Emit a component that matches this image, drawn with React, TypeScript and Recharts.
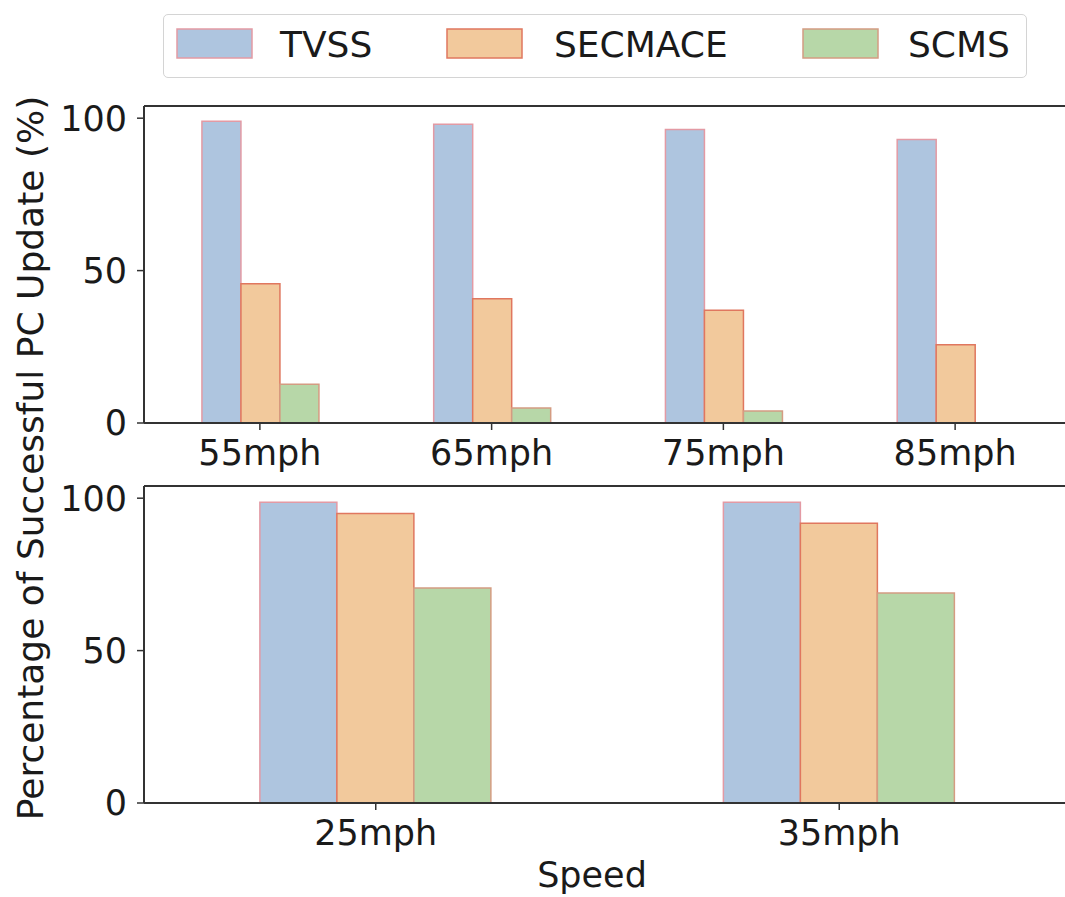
import React from 'react';
import { BarChart, Bar, XAxis, YAxis, ReferenceLine, Legend } from 'recharts';

const seriesNames = ['TVSS', 'SECMACE', 'SCMS'];

const highSpeedCategories = ['55mph', '65mph', '75mph', '85mph'];
const tvssHigh = [99.0, 98.0, 96.3, 93.0];
const secmaceHigh = [45.7, 40.8, 37.0, 25.7];
const scmsHigh = [12.7, 4.9, 3.9, 0];

const lowSpeedCategories = ['25mph', '35mph'];
const tvssLow = [98.7, 98.7];
const secmaceLow = [95.0, 91.8];
const scmsLow = [70.5, 68.9];

const yTicks = [0, 50, 100];
const yDomainMax = 104;
const yLabelText = 'Percentage of Successful PC Update (%)';
const xLabelText = 'Speed';

const FILLS = ['#aec5df', '#f2c99c', '#b7d7a8'];
const STROKES = ['#e39aa4', '#e0775f', '#d49c82'];
const AX = '#333333';
const TXT = '#1a1a1a';
const FONT = '"DejaVu Sans", sans-serif';

const highData = highSpeedCategories.map((cat, i) => ({
  cat,
  TVSS: tvssHigh[i],
  SECMACE: secmaceHigh[i],
  SCMS: scmsHigh[i],
}));

const lowData = lowSpeedCategories.map((cat, i) => ({
  cat,
  TVSS: tvssLow[i],
  SECMACE: secmaceLow[i],
  SCMS: scmsLow[i],
}));

const renderYLabel = () => (
  <text
    x={43}
    y={458}
    transform="rotate(-90 43 458)"
    textAnchor="middle"
    fontSize={36}
    fontFamily={FONT}
    fill={TXT}
  >
    {yLabelText}
  </text>
);

const renderXLabel = () => (
  <text x={592} y={417} textAnchor="middle" fontSize={35} fontFamily={FONT} fill={TXT}>
    {xLabelText}
  </text>
);

const legendPatchX = [13, 283, 639];
const legendTextX = [116, 390, 744];

const renderLegend = () => (
  <div
    style={{
      width: 864,
      height: 64,
      boxSizing: 'border-box',
      border: '1.5px solid #d4d4d4',
      borderRadius: 5,
      background: '#fff',
    }}
  >
    <svg width={861} height={61} style={{ display: 'block' }}>
      {seriesNames.map((name, i) => (
        <g key={name}>
          <rect
            x={legendPatchX[i]}
            y={14}
            width={75}
            height={29}
            fill={FILLS[i]}
            stroke={STROKES[i]}
            strokeWidth={1.5}
          />
          <text x={legendTextX[i]} y={42} fontSize={36} fontFamily={FONT} fill={TXT}>
            {name}
          </text>
        </g>
      ))}
    </svg>
  </div>
);

const axisProps = {
  tickSize: 7,
  tickMargin: 10,
  axisLine: { stroke: AX, strokeWidth: 2 },
  tickLine: { stroke: AX, strokeWidth: 1.5 },
  tick: { fill: TXT, fontSize: 35, fontFamily: FONT },
};

const renderBars = () =>
  seriesNames.map((name, i) => (
    <Bar
      key={name}
      dataKey={name}
      fill={FILLS[i]}
      stroke={STROKES[i]}
      strokeWidth={1.5}
      isAnimationActive={false}
    />
  ));

export default function App() {
  return (
    <div
      style={{
        position: 'absolute',
        left: 0,
        top: 0,
        width: 1065,
        height: 897,
        overflow: 'hidden',
        background: '#fff',
      }}
    >
      <div style={{ position: 'absolute', left: 0, top: 0 }}>
        <BarChart
          width={1075}
          height={897}
          data={highData}
          margin={{ top: 106, right: 4, left: 0, bottom: 417 }}
          barCategoryGap="25%"
          barGap={0}
        >
          <XAxis dataKey="cat" height={57} interval={0} {...axisProps} />
          <YAxis
            width={144}
            domain={[0, yDomainMax]}
            ticks={yTicks}
            allowDataOverflow
            label={renderYLabel}
            {...axisProps}
          />
          <ReferenceLine y={yDomainMax} stroke={AX} strokeWidth={2} />
          {renderBars()}
          <Legend
            layout="horizontal"
            verticalAlign="middle"
            align="center"
            content={renderLegend}
            wrapperStyle={{ left: 163, top: 14, width: 864, height: 64 }}
          />
        </BarChart>
      </div>
      <div style={{ position: 'absolute', left: 0, top: 470 }}>
        <BarChart
          width={1075}
          height={427}
          data={lowData}
          margin={{ top: 16, right: 4, left: 0, bottom: 37 }}
          barCategoryGap="25%"
          barGap={0}
        >
          <XAxis dataKey="cat" height={57} interval={0} label={renderXLabel} {...axisProps} />
          <YAxis
            width={144}
            domain={[0, yDomainMax]}
            ticks={yTicks}
            allowDataOverflow
            {...axisProps}
          />
          <ReferenceLine y={yDomainMax} stroke={AX} strokeWidth={2} />
          {renderBars()}
        </BarChart>
      </div>
    </div>
  );
}
